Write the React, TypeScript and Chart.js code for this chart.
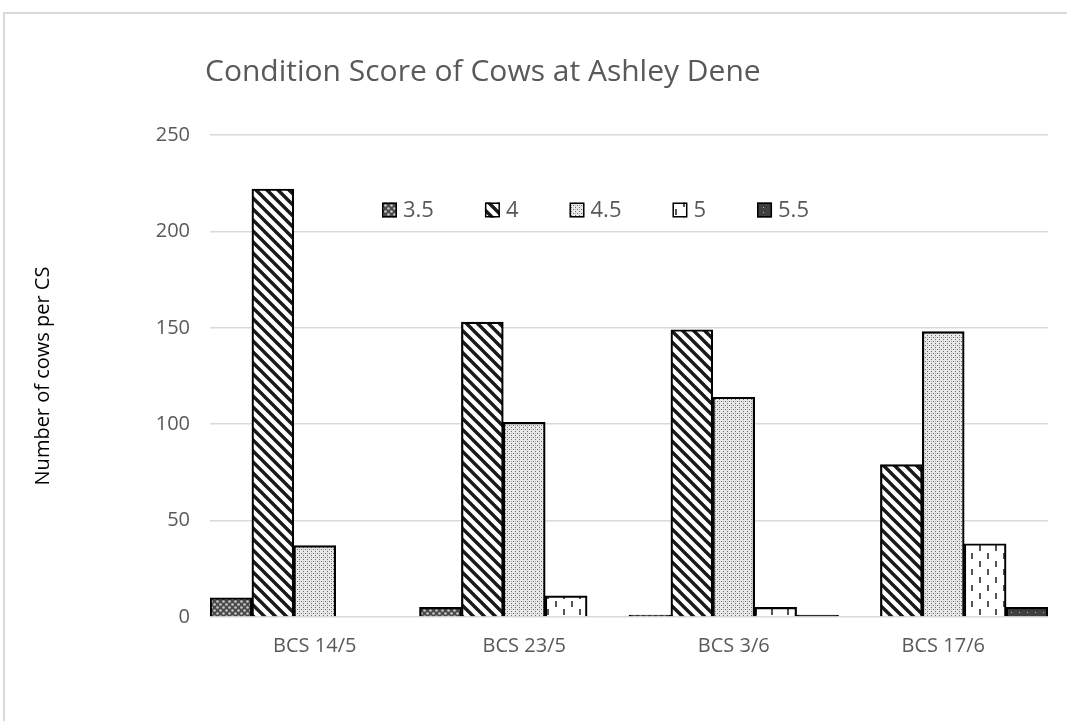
import React, { useEffect, useRef } from "react";
import { Chart, registerables } from "chart.js";

Chart.register(...registerables);

const categories = ["BCS 14/5", "BCS 23/5", "BCS 3/6", "BCS 17/6"];
const seriesNames = ["3.5", "4", "4.5", "5", "5.5"];
const cs35 = [10, 5, 1, 0];
const cs4 = [222, 153, 149, 79];
const cs45 = [37, 101, 114, 148];
const cs5 = [0, 11, 5, 38];
const cs55 = [0, 0, 1, 5];
const yTicks = [0, 50, 100, 150, 200, 250];

const FONT = '"Open Sans", "DejaVu Sans", sans-serif';

function makeTile(w: number, h: number, draw: (c: CanvasRenderingContext2D) => void): CanvasPattern {
  const cv = document.createElement("canvas");
  cv.width = w;
  cv.height = h;
  const c = cv.getContext("2d")!;
  draw(c);
  return c.createPattern(cv, "repeat")!;
}

function makePatterns(): CanvasPattern[] {
  const p35 = makeTile(6, 6, (c) => {
    c.fillStyle = "#4a4a4a";
    c.fillRect(0, 0, 6, 6);
    c.fillStyle = "#c8c8c8";
    c.beginPath();
    c.arc(1.5, 1.5, 1.3, 0, Math.PI * 2);
    c.fill();
    c.beginPath();
    c.arc(4.5, 4.5, 1.3, 0, Math.PI * 2);
    c.fill();
  });
  const p4 = makeTile(11, 11, (c) => {
    c.fillStyle = "#ffffff";
    c.fillRect(0, 0, 11, 11);
    c.strokeStyle = "#1a1a1a";
    c.lineWidth = 3.4;
    c.lineCap = "square";
    for (const off of [-11, 0, 11]) {
      c.beginPath();
      c.moveTo(off - 2, -2);
      c.lineTo(off + 13, 13);
      c.stroke();
    }
  });
  const p45 = makeTile(4, 4, (c) => {
    c.fillStyle = "#e8e8e8";
    c.fillRect(0, 0, 4, 4);
    c.fillStyle = "#6e6e6e";
    c.fillRect(1, 1, 1, 1);
    c.fillRect(3, 3, 1, 1);
    c.fillStyle = "#b4b4b4";
    c.fillRect(3, 1, 1, 1);
  });
  const p5 = makeTile(16, 16, (c) => {
    c.fillStyle = "#ffffff";
    c.fillRect(0, 0, 16, 16);
    c.fillStyle = "#555555";
    c.fillRect(3, 1, 2, 6);
    c.fillRect(11, 9, 2, 6);
  });
  const p55 = makeTile(8, 5, (c) => {
    c.fillStyle = "#3f3f3f";
    c.fillRect(0, 0, 8, 5);
    c.fillStyle = "#b0b0b0";
    c.fillRect(3, 2, 1, 1);
  });
  return [p35, p4, p45, p5, p55];
}

export default function App() {
  const canvasRef = useRef<HTMLCanvasElement | null>(null);

  useEffect(() => {
    let chart: Chart | null = null;
    let cancelled = false;
    const loads = [
      (document as any).fonts?.load?.('20px "Open Sans"'),
      (document as any).fonts?.load?.('30px "Open Sans"'),
    ].filter(Boolean);
    Promise.all(loads)
      .catch(() => null)
      .then(() => {
        if (cancelled || !canvasRef.current) return;
        const patterns = makePatterns();
        const series = [cs35, cs4, cs45, cs5, cs55];

        const decor = {
          id: "decor",
          afterDraw(ch: any) {
            const ctx = ch.ctx as CanvasRenderingContext2D;
            ctx.save();
            // title
            ctx.font = `30px ${FONT}`;
            ctx.fillStyle = "#595959";
            ctx.textAlign = "left";
            ctx.textBaseline = "alphabetic";
            ctx.fillText("Condition Score of Cows at Ashley Dene", 205, 81);
            // legend
            ctx.font = `22px ${FONT}`;
            ctx.textBaseline = "middle";
            let x = 382;
            const cy = 210;
            ch.data.datasets.forEach((ds: any) => {
              ctx.fillStyle = ds.backgroundColor;
              ctx.fillRect(x, cy - 7.5, 15, 15);
              ctx.strokeStyle = "#000";
              ctx.lineWidth = 1.5;
              ctx.strokeRect(x + 0.75, cy - 6.75, 13.5, 13.5);
              ctx.fillStyle = "#595959";
              ctx.fillText(ds.label, x + 21, cy + 1);
              x += 21 + ctx.measureText(ds.label).width + 51;
            });
            ctx.restore();
          },
        };

        chart = new Chart(canvasRef.current, {
          type: "bar",
          data: {
            labels: categories,
            datasets: seriesNames.map((name, i) => ({
              label: name,
              data: series[i],
              backgroundColor: patterns[i] as any,
              borderColor: "#000000",
              borderWidth: 2.2,
              categoryPercentage: 1,
              barPercentage: 1,
            })),
          },
          options: {
            animation: false,
            responsive: false,
            devicePixelRatio: 1,
            layout: { padding: { left: 31, right: 19, top: 135, bottom: 44 } },
            plugins: {
              legend: { display: false },
              title: { display: false },
              tooltip: { enabled: false },
            },
            scales: {
              x: {
                grid: { display: false, drawTicks: false },
                border: { display: false },
                ticks: {
                  color: "#595959",
                  font: { family: FONT, size: 20 },
                  padding: 17,
                },
                afterFit(scale: any) {
                  scale.height = 60;
                },
              },
              y: {
                min: 0,
                max: 250,
                afterBuildTicks(scale: any) {
                  scale.ticks = yTicks.map((v) => ({ value: v }));
                },
                grid: { color: "#d9d9d9", lineWidth: 1.5, drawTicks: false },
                border: { display: false },
                ticks: {
                  color: "#595959",
                  font: { family: FONT, size: 20 },
                  padding: 20,
                },
                title: {
                  display: true,
                  text: "Number of cows per CS",
                  color: "#000000",
                  font: { family: FONT, size: 20 },
                  padding: 0,
                },
                afterFit(scale: any) {
                  scale.width = 179;
                },
              },
            },
          },
          plugins: [decor],
        });
      });
    return () => {
      cancelled = true;
      if (chart) chart.destroy();
    };
  }, []);

  return (
    <div
      style={{
        position: "fixed",
        left: 0,
        top: 0,
        width: 1067,
        height: 721,
        overflow: "hidden",
        background: "#ffffff",
      }}
    >
      <div
        style={{
          position: "absolute",
          left: 3,
          top: 12,
          width: 1200,
          height: 900,
          border: "2px solid #d9d9d9",
          boxSizing: "border-box",
        }}
      />
      <canvas
        ref={canvasRef}
        width={1067}
        height={721}
        style={{ position: "absolute", left: 0, top: 0, width: 1067, height: 721 }}
      />
    </div>
  );
}
